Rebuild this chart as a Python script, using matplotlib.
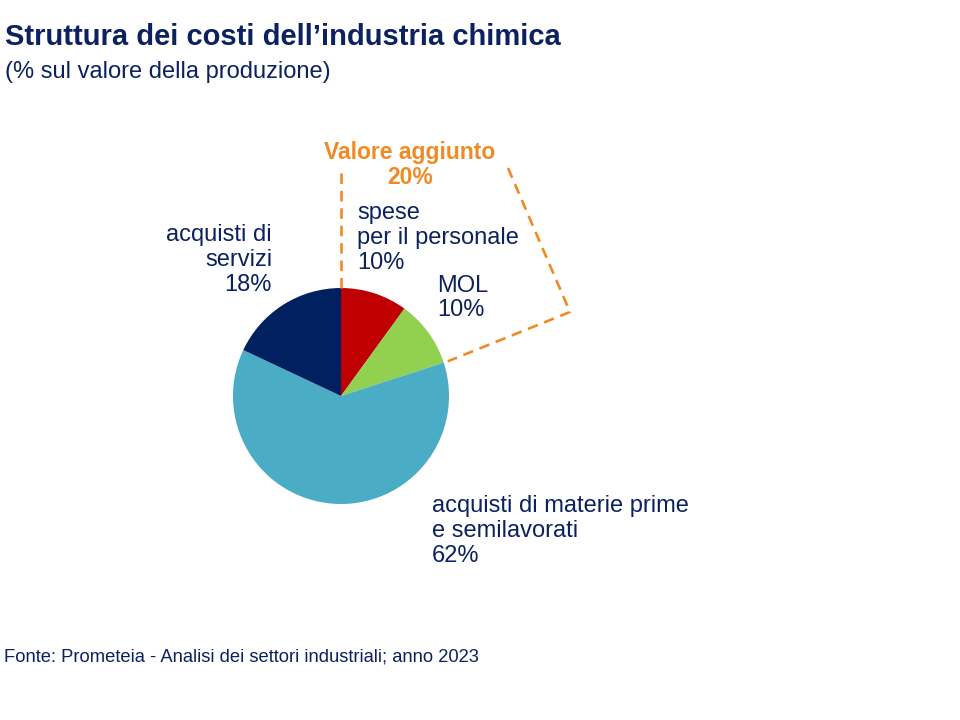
import numpy as np
import matplotlib.pyplot as plt

labels = ["spese\nper il personale\n10%", "MOL\n10%",
          "acquisti di materie prime\ne semilavorati\n62%", "acquisti di\nservizi\n18%"]
values = [10, 10, 62, 18]
colors = ["#C00000", "#92D050", "#4BACC6", "#002060"]
va_label = "Valore aggiunto\n20%"

navy = "#0B2160"
orange = "#F08A24"

plt.rcParams['font.family'] = ['Liberation Sans', 'DejaVu Sans']

fig = plt.figure(figsize=(9.6, 7.2), dpi=100)
ax = fig.add_axes([0, 0, 1, 1])


def Y(y):
    # pixel row from the top -> data y
    return 720 - y


cx, cy, r = 341, Y(396), 108
ax.pie(values, colors=colors, startangle=90, counterclock=False,
       center=(cx, cy), radius=r, frame=True,
       wedgeprops=dict(linewidth=0))
ax.set_xlim(0, 960)
ax.set_ylim(0, 720)
ax.axis('off')

# bracket around the "valore aggiunto" share (first two slices)
va_share = sum(values[:2]) / sum(values)
ang = np.deg2rad(90 - 360 * va_share)
ex, ey = cx + r * 1.04 * np.cos(ang), cy + r * 1.04 * np.sin(ang)
dash = dict(color=orange, lw=1.9, linestyle=(0, (4, 2.6)), solid_capstyle='butt')
ax.plot([cx, cx], [cy + r, Y(168)], **dash)
ax.plot([508, 570, ex], [Y(168), Y(312), ey], **dash)

# title and notes
fig.text(5 / 960, 1 - 37 / 720, "Struttura dei costi dell\u2019industria chimica",
         fontsize=21, fontweight='bold', color=navy, va='center')
fig.text(5 / 960, 1 - 72 / 720, "(% sul valore della produzione)",
         fontsize=17, color=navy, va='center')
fig.text(4 / 960, 1 - 657 / 720,
         "Fonte: Prometeia - Analisi dei settori industriali; anno 2023",
         fontsize=13.2, color=navy, va='center')

ax.text(410, Y(165), va_label, fontsize=16.5, fontweight='bold', color=orange,
        ha='center', va='center', linespacing=1.08)

lab_kw = dict(fontsize=17, color=navy, va='center', linespacing=1.17)
ax.text(357, Y(238), labels[0], ha='left', **lab_kw)
ax.text(437, Y(298), labels[1], ha='left', **lab_kw)
ax.text(432, Y(531), labels[2], ha='left', **lab_kw)
ax.text(272, Y(260), labels[3], ha='right', multialignment='right', **lab_kw)

fig.savefig("out.png", dpi=100)
